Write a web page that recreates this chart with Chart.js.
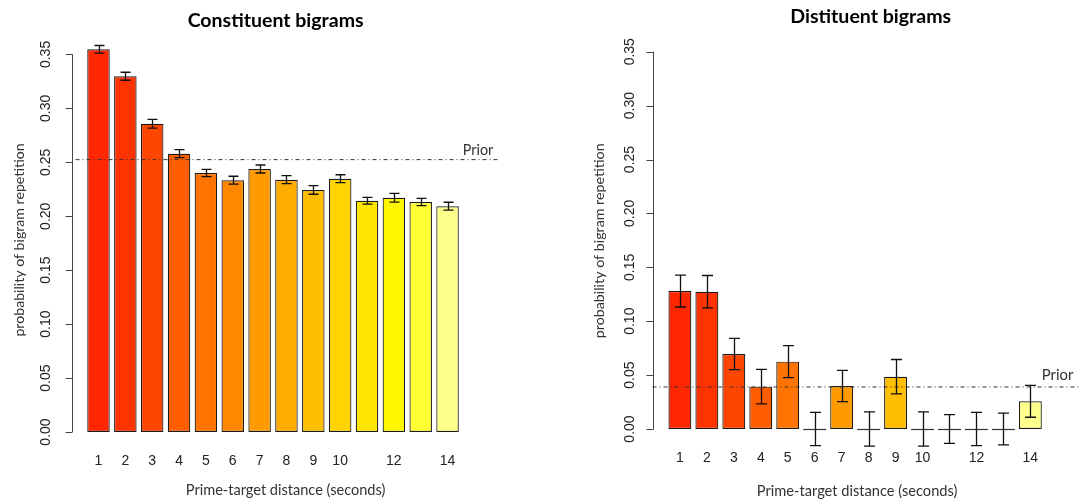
<!DOCTYPE html>
<html><head><meta charset="utf-8">
<script src="https://cdn.jsdelivr.net/npm/chart.js@4.4.1/dist/chart.umd.min.js"></script>
<style>
html,body{margin:0;padding:0;background:#fff;overflow:hidden}
#wrap{position:relative;width:1080px;height:503px;background:#fff}
canvas{position:absolute;top:0}
</style></head><body>
<div id="wrap">
<canvas id="c1" width="540" height="503" style="left:0"></canvas>
<canvas id="c2" width="540" height="503" style="left:540px"></canvas>
</div>
<script>
// ---------------- data ----------------
const distances = [1,2,3,4,5,6,7,8,9,10,11,12,13,14];
const xTickLabels = ['1','2','3','4','5','6','7','8','9','10','','12','','14'];
const yTicks = [0,0.05,0.10,0.15,0.20,0.25,0.30,0.35];
const yTickLabels = ['0.00','0.05','0.10','0.15','0.20','0.25','0.30','0.35'];
const constituentProb = [0.3548,0.3298,0.2858,0.2580,0.2401,0.2334,0.2438,0.2339,0.2244,0.2348,0.2144,0.2172,0.2132,0.2093];
const constituentErr  = [0.0035,0.0037,0.0041,0.0037,0.0034,0.0037,0.0037,0.0037,0.0040,0.0037,0.0032,0.0041,0.0034,0.0037];
const distituentProb  = [0.1280,0.1274,0.0696,0.0393,0.0625,0,0.0399,0,0.0485,0,0,0,0,0.0257];
const distituentErr   = [0.0148,0.0150,0.0145,0.0160,0.0148,0.0155,0.0145,0.0158,0.0160,0.0158,0.0133,0.0155,0.0148,0.0148];
const priorConstituent = 0.2525;
const priorDistituent = 0.0390;
const barColors = ['#FF2600','#FF3300','#FF4600','#FF5E00','#FF7400','#FF8800','#FF9A00','#FFAC00','#FFBF00','#FFD400','#FFE600','#FFF700','#FFFF33','#FFFF8C'];
const titles = ['Constituent bigrams','Distituent bigrams'];
const xTitle = 'Prime-target distance (seconds)';
const yTitle = 'probability of bigram repetition';
const priorLabel = 'Prior';

// ---------------- helpers ----------------
const HUMAN = 'Lato, "Open Sans", sans-serif';
const NUMF = '"Liberation Sans", Arial, sans-serif';
function fitFont(ctx, text, family, weight, targetW){
  ctx.font = weight + ' 20px ' + family;
  const w = ctx.measureText(text).width;
  const s = 20 * targetW / w;
  ctx.font = weight + ' ' + s.toFixed(2) + 'px ' + family;
}

function rPlugin(cfg){
  return {
    id: 'rstyle',
    afterDatasetsDraw(chart){
      const ctx = chart.ctx, ys = chart.scales.y, area = chart.chartArea;
      const meta = chart.getDatasetMeta(0);
      ctx.save();
      // zero-height bars drawn as a line
      ctx.strokeStyle = '#333'; ctx.lineWidth = 1.2;
      meta.data.forEach((el,i)=>{
        if (cfg.values[i] === 0){
          const y0 = Math.round(ys.getPixelForValue(0)) + 0.5;
          ctx.beginPath(); ctx.moveTo(el.x - el.width/2, y0); ctx.lineTo(el.x + el.width/2, y0); ctx.stroke();
        }
      });
      // prior line
      const py = ys.getPixelForValue(cfg.prior);
      ctx.strokeStyle = '#333'; ctx.lineWidth = 1;
      ctx.setLineDash([4,3,1,3]);
      ctx.beginPath(); ctx.moveTo(area.left + cfg.priorStart, py); ctx.lineTo(area.right, py); ctx.stroke();
      ctx.setLineDash([]);
      // error bars
      ctx.strokeStyle = '#111'; ctx.lineWidth = 1.3;
      meta.data.forEach((el,i)=>{
        const v = cfg.values[i], e = cfg.errors[i];
        const yt = ys.getPixelForValue(v + e), yb = ys.getPixelForValue(v - e);
        const x = Math.round(el.x) + 0.5, h = cfg.cap/2;
        ctx.beginPath();
        ctx.moveTo(x, yt); ctx.lineTo(x, yb);
        ctx.moveTo(x - h, yt); ctx.lineTo(x + h, yt);
        ctx.moveTo(x - h, yb); ctx.lineTo(x + h, yb);
        ctx.stroke();
      });
      // prior label
      ctx.fillStyle = '#333';
      fitFont(ctx, priorLabel, HUMAN, '400', cfg.priorLabelW);
      ctx.textAlign = 'right'; ctx.textBaseline = 'alphabetic';
      ctx.fillText(priorLabel, cfg.priorLabelRight, cfg.priorLabelBase);
      ctx.restore();
    },
    afterDraw(chart){
      const ctx = chart.ctx, ys = chart.scales.y, area = chart.chartArea;
      const meta = chart.getDatasetMeta(0);
      ctx.save();
      // y axis (R style)
      const ax = Math.round(area.left) + 0.5;
      ctx.strokeStyle = '#444'; ctx.lineWidth = 1;
      ctx.beginPath();
      ctx.moveTo(ax, ys.getPixelForValue(yTicks[0]));
      ctx.lineTo(ax, ys.getPixelForValue(yTicks[yTicks.length-1]));
      yTicks.forEach(t=>{ const y = Math.round(ys.getPixelForValue(t)) + 0.5; ctx.moveTo(ax, y); ctx.lineTo(ax - 7, y); });
      ctx.stroke();
      ctx.fillStyle = '#222';
      ctx.font = '14px ' + NUMF;
      ctx.textAlign = 'center'; ctx.textBaseline = 'alphabetic';
      yTicks.forEach((t,i)=>{
        const y = ys.getPixelForValue(t);
        ctx.save(); ctx.translate(cfg.yLabBase, y); ctx.rotate(-Math.PI/2);
        ctx.fillText(yTickLabels[i], 0, 0); ctx.restore();
      });
      // x tick labels
      meta.data.forEach((el,i)=>{
        if (xTickLabels[i]) ctx.fillText(xTickLabels[i], el.x, cfg.xLabBase);
      });
      // y title
      ctx.fillStyle = '#333';
      fitFont(ctx, yTitle, HUMAN, '400', cfg.yTitleW);
      ctx.save(); ctx.translate(cfg.yTitleBase, cfg.yTitleCY); ctx.rotate(-Math.PI/2);
      ctx.fillText(yTitle, 0, 0); ctx.restore();
      // x title
      fitFont(ctx, xTitle, HUMAN, '400', cfg.xTitleW);
      ctx.fillText(xTitle, cfg.xTitleCX, cfg.xTitleBase);
      // main title
      ctx.fillStyle = '#000';
      fitFont(ctx, cfg.title, HUMAN, '700', cfg.titleW);
      ctx.fillText(cfg.title, cfg.titleCX, cfg.titleBase);
      ctx.restore();
    }
  };
}

function makeChart(id, values, errors, cfg){
  cfg.values = values; cfg.errors = errors;
  return new Chart(document.getElementById(id), {
    type: 'bar',
    data: {
      datasets: [{
        data: distances.map((d,i)=>({x:d, y:values[i]})),
        backgroundColor: barColors,
        borderColor: '#1a1a1a',
        borderWidth: 1.2,
        borderSkipped: false,
        categoryPercentage: 1,
        barPercentage: cfg.barPct
      }]
    },
    options: {
      responsive: false,
      animation: false,
      events: [],
      layout: { padding: cfg.padding },
      plugins: { legend: {display:false}, tooltip: {enabled:false}, title: {display:false} },
      scales: {
        x: { type:'linear', display:false, offset:false, grid:{offset:false}, min: cfg.xMin, max: cfg.xMax, ticks: {stepSize:1, includeBounds:false} },
        y: { type:'linear', display:false, beginAtZero:false, min: cfg.yMin, max: cfg.yMax }
      }
    },
    plugins: [rPlugin(cfg)]
  });
}

makeChart('c1', constituentProb, constituentErr, {
  padding: {left:71.5, right:40, top:40, bottom:56},
  xMin: -0.0056, xMax: 15.953, yMin: -0.0139, yMax: 0.3634,
  barPct: 0.838, cap: 10, priorStart: 4,
  prior: priorConstituent, priorLabelRight: 493.3, priorLabelBase: 155, priorLabelW: 30.6,
  yLabBase: 50, xLabBase: 465,
  yTitleBase: 23.5, yTitleCY: 240, yTitleW: 193.3,
  xTitleCX: 285.6, xTitleBase: 495, xTitleW: 199.6,
  title: titles[0], titleCX: 275.6, titleBase: 26.7, titleW: 176
});

makeChart('c2', distituentProb, distituentErr, {
  padding: {left:112.5, right:0, top:36, bottom:57},
  xMin: -0.0164, xMax: 15.842, yMin: -0.01577, yMax: 0.3646,
  barPct: 0.85, cap: 11, priorStart: 0,
  prior: priorDistituent, priorLabelRight: 533.3, priorLabelBase: 380, priorLabelW: 31.6,
  yLabBase: 94.3, xLabBase: 462.3,
  yTitleBase: 63.5, yTitleCY: 240.8, yTitleW: 195,
  xTitleCX: 317.1, xTitleBase: 495.7, xTitleW: 200.6,
  title: titles[1], titleCX: 330.7, titleBase: 22.7, titleW: 161
});
</script>
</body></html>
